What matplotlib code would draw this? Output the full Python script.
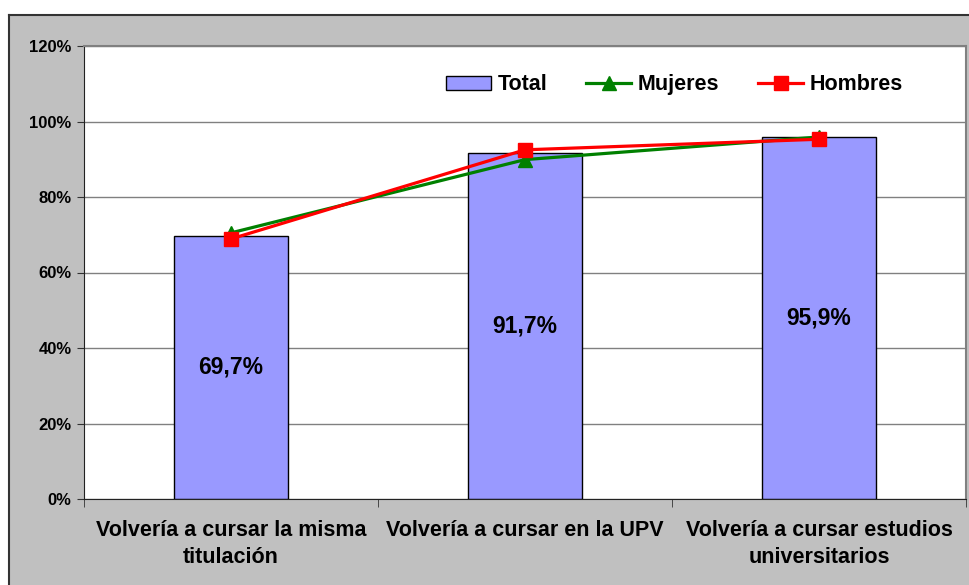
import matplotlib
matplotlib.use("Agg")
import matplotlib.pyplot as plt
from matplotlib.patches import Rectangle
from matplotlib.lines import Line2D
import numpy as np

categories = ["Volvería a cursar la misma\ntitulación",
              "Volvería a cursar en la UPV",
              "Volvería a cursar estudios\nuniversitarios"]
total = [69.7, 91.7, 95.9]
mujeres = [70.5, 89.9, 95.9]
hombres = [68.9, 92.5, 95.3]
total_labels = ["69,7%", "91,7%", "95,9%"]
yticks = [0, 20, 40, 60, 80, 100, 120]
ytick_labels = ["0%", "20%", "40%", "60%", "80%", "100%", "120%"]

plt.rcParams['font.family'] = ['Liberation Sans', 'DejaVu Sans']
plt.rcParams['font.weight'] = 'bold'

W, H = 970, 585
fig = plt.figure(figsize=(W/100, H/100), dpi=100)
fig.patch.set_facecolor('white')
# gray chart area
bg = Rectangle((9/W, 0), 1 - 9/W, 1 - 15/H, transform=fig.transFigure,
               facecolor='#C0C0C0', edgecolor='none', zorder=-2)
fig.patches.append(bg)
fig.add_artist(Line2D([9/W, 1], [1 - 15/H, 1 - 15/H], transform=fig.transFigure,
                      color='#333333', lw=1.5, zorder=-1))
fig.add_artist(Line2D([9/W, 9/W], [0, 1 - 15/H], transform=fig.transFigure,
                      color='#333333', lw=1.5, zorder=-1))

ax = fig.add_axes([84/W, 1 - 499/H, (966 - 84)/W, (499 - 46)/H])
ax.set_facecolor('white')
x = np.arange(len(categories))

ax.set_axisbelow(True)
ax.yaxis.grid(True, color='#808080', lw=1)
ax.bar(x, total, width=0.385, color='#9999FF', edgecolor='black', lw=1, zorder=2,
       label='Total')
ax.plot(x, mujeres, color='#008000', lw=2.3, marker='^', markersize=10, zorder=3,
        label='Mujeres')
ax.plot(x, hombres, color='#FF0000', lw=2.3, marker='s', markersize=10, zorder=4,
        label='Hombres')

for xi, v, lab in zip(x, total, total_labels):
    ax.text(xi, v / 2, lab, ha='center', va='center', fontsize=16.5, fontweight='bold',
            zorder=5)

ax.set_xlim(-0.5, 2.5)
ax.set_ylim(0, 120)
ax.set_yticks(yticks)
ax.set_yticklabels(ytick_labels, fontsize=12, fontweight='bold')
ax.set_xticks(x)
ax.set_xticklabels(categories, fontsize=15.5, fontweight='bold', linespacing=1.4)
ax.tick_params(axis='x', which='major', length=0, pad=15)
ax.set_xticks([-0.5, 0.5, 1.5, 2.5], minor=True)
ax.tick_params(axis='x', which='minor', length=6, color='#333333', direction='out')
ax.tick_params(axis='y', length=5, color='#333333', direction='out', pad=4)

for s in ['top', 'right']:
    ax.spines[s].set_color('#808080')
    ax.spines[s].set_linewidth(1.5)
ax.spines['bottom'].set_color('#222222')
ax.spines['left'].set_color('#222222')

handles, labels = ax.get_legend_handles_labels()
order = [labels.index('Total'), labels.index('Mujeres'), labels.index('Hombres')]
ax.legend([handles[i] for i in order], [labels[i] for i in order],
          ncol=3, loc='center', bbox_to_anchor=(0.6695, 0.914), frameon=False,
          prop={'weight': 'bold', 'size': 15.5}, handlelength=2.1, columnspacing=1.8,
          handletextpad=0.3, handleheight=0.6)

fig.savefig('out.png', dpi=100, facecolor=fig.get_facecolor())
